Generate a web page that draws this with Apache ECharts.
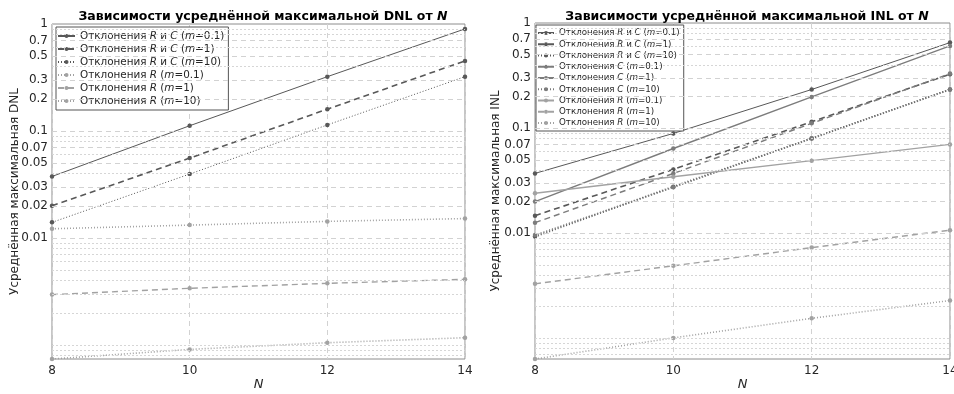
<!DOCTYPE html>
<html><head><meta charset="utf-8">
<script src="https://cdn.jsdelivr.net/npm/echarts@6/dist/echarts.min.js"></script>
<style>html,body{margin:0;padding:0;background:#fff}#c{width:954px;height:394px}</style>
</head><body><div id="c"></div>
<script>
// ---- data ----
const N = [8, 10, 12, 14];
const xTicks = [8, 10, 12, 14];
const yTickLabels = [0.01, 0.02, 0.03, 0.05, 0.07, 0.1, 0.2, 0.3, 0.5, 0.7, 1];

// DNL (left)
const dnl_RC_01 = [0.0376, 0.112, 0.322, 0.90];
const dnl_RC_1  = [0.0200, 0.0558, 0.160, 0.452];
const dnl_RC_10 = [0.0140, 0.0396, 0.114, 0.322];
const dnl_R_01  = [0.0122, 0.0132, 0.0143, 0.0152];
const dnl_R_1   = [0.00296, 0.00339, 0.00377, 0.00411];
const dnl_R_10  = [0.00074, 0.00091, 0.00105, 0.00117];

// INL (right)
const inl_RC_01 = [0.0371, 0.089, 0.233, 0.651];
const inl_RC_1  = [0.0147, 0.0405, 0.115, 0.326];
const inl_RC_10 = [0.0093, 0.0277, 0.0798, 0.233];
const inl_C_01  = [0.0200, 0.064, 0.198, 0.605];
const inl_C_1   = [0.0126, 0.037, 0.111, 0.330];
const inl_C_10  = [0.0096, 0.0274, 0.080, 0.233];
const inl_R_01  = [0.0240, 0.0345, 0.049, 0.070];
const inl_R_1   = [0.0033, 0.0049, 0.0073, 0.0107];
const inl_R_10  = [0.000636, 0.00101, 0.00155, 0.00229];

const namesL = ['Отклонения R и C (m=0.1)', 'Отклонения R и C (m=1)', 'Отклонения R и C (m=10)',
                'Отклонения R (m=0.1)', 'Отклонения R (m=1)', 'Отклонения R (m=10)'];
const namesR = ['Отклонения R и C (m=0.1) ', 'Отклонения R и C (m=1) ', 'Отклонения R и C (m=10) ',
                'Отклонения C (m=0.1)', 'Отклонения C (m=1)', 'Отклонения C (m=10)',
                'Отклонения R (m=0.1) ', 'Отклонения R (m=1) ', 'Отклонения R (m=10) '];

// ---- styles ----
const DARK = '#585858', MID = '#7c7c7c', LIGHT = '#a2a2a2';
const SOLID = 'solid', DASH = [6, 4], DOT = [1, 2];
const FONT = 'DejaVu Sans';

function zip(vals) { return N.map((n, i) => [n, vals[i]]); }
function mk(name, vals, color, type, width, g) {
  return {
    name, type: 'line', xAxisIndex: g, yAxisIndex: g, data: zip(vals), z: 3,
    symbol: 'circle', symbolSize: 4.5, showSymbol: true, animation: false,
    itemStyle: { color: color, borderWidth: 0 },
    lineStyle: { color: color, type: type, width: width }
  };
}

function gridValues(lo) {
  const major = yTickLabels.filter(v => v >= lo && v < 1);
  const minor = [];
  for (let e = -4; e <= 0; e++) {
    for (let k = 1; k <= 9; k++) {
      const v = Number((k * Math.pow(10, e)).toPrecision(3));
      if (v >= lo && v < 1 && yTickLabels.indexOf(v) < 0) minor.push(v);
    }
  }
  return { major, minor };
}

const xMin = xTicks[0], xMax = xTicks[xTicks.length - 1];
function gridSeries(g, lo, which) {
  const gv = gridValues(lo);
  const vals = which === 'major' ? gv.major : gv.minor;
  const ls = which === 'major'
    ? { color: '#d2d2d2', type: [5, 4], width: 1 }
    : { color: '#d6d6d6', type: [2, 2], width: 1 };
  return {
    type: 'line', xAxisIndex: g, yAxisIndex: g, data: [], z: 1, silent: true, animation: false,
    markLine: {
      silent: true, symbol: ['none', 'none'], animation: false, label: { show: false },
      emphasis: { disabled: true }, lineStyle: ls,
      data: vals.map(v => [{ coord: [xMin, v] }, { coord: [xMax, v] }])
    }
  };
}

function richName(name) {
  return name.trim().replace(/(^|[ (])([RCm])(?=[ =)])/g, '$1{i|$2}');
}

function xAxis(g) {
  return {
    type: 'value', gridIndex: g, min: xMin, max: xMax, interval: 2,
    axisLine: { show: false }, axisTick: { show: false },
    axisLabel: { color: '#262626', fontSize: 12, fontFamily: FONT, margin: 6 },
    splitLine: { show: true, lineStyle: { color: '#d2d2d2', type: [5, 4], width: 1 } },
    name: 'N', nameLocation: 'middle', nameGap: 19, nameMoveOverlap: false,
    nameTextStyle: { color: '#262626', fontSize: 13, fontStyle: 'italic', fontFamily: FONT }
  };
}
function yAxis(g, name, gap, lo) {
  return {
    type: 'log', logBase: 10, gridIndex: g,
    min: lo, max: 1,
    axisLine: { show: false }, axisTick: { show: false },
    splitLine: { show: false },
    axisLabel: {
      customValues: yTickLabels, color: '#262626', fontSize: 12, fontFamily: FONT, margin: 4,
      formatter: v => String(+(+v).toPrecision(3))
    },
    name: name, nameLocation: 'middle', nameGap: gap, nameMoveOverlap: false,
    nameTextStyle: { color: '#262626', fontSize: 12, fontFamily: FONT }
  };
}

const seriesL = [
  mk(namesL[0], dnl_RC_01, DARK, SOLID, 1, 0),
  mk(namesL[1], dnl_RC_1, DARK, DASH, 1.6, 0),
  mk(namesL[2], dnl_RC_10, DARK, DOT, 1, 0),
  mk(namesL[3], dnl_R_01, LIGHT, DOT, 1.6, 0),
  mk(namesL[4], dnl_R_1, LIGHT, DASH, 1.4, 0),
  mk(namesL[5], dnl_R_10, LIGHT, DOT, 1.6, 0)
];
const seriesR = [
  mk(namesR[0], inl_RC_01, DARK, SOLID, 1, 1),
  mk(namesR[1], inl_RC_1, DARK, DASH, 1.6, 1),
  mk(namesR[2], inl_RC_10, DARK, DOT, 2, 1),
  mk(namesR[3], inl_C_01, MID, SOLID, 1.4, 1),
  mk(namesR[4], inl_C_1, MID, DASH, 1.4, 1),
  mk(namesR[5], inl_C_10, MID, DOT, 1.6, 1),
  mk(namesR[6], inl_R_01, LIGHT, SOLID, 1.4, 1),
  mk(namesR[7], inl_R_1, LIGHT, DASH, 1.4, 1),
  mk(namesR[8], inl_R_10, LIGHT, DOT, 1.6, 1)
];

const minL = Math.min(...dnl_R_10, ...dnl_R_1);
const minR = Math.min(...inl_R_10, ...inl_R_1);

function legend(names, left, top, fs, lh, gap, w) {
  return {
    data: names, orient: 'vertical', left: left, top: top,
    backgroundColor: '#ffffff', borderColor: '#555', borderWidth: 1, borderRadius: 0,
    padding: [3, 4, 3, 1], itemGap: gap, itemWidth: w, itemHeight: 5,
    selectedMode: false,
    itemStyle: { borderWidth: 0 },
    textStyle: { fontSize: fs, lineHeight: lh, color: '#262626', fontFamily: FONT,
      rich: { i: { fontStyle: 'italic', fontSize: fs, lineHeight: lh, color: '#262626', fontFamily: FONT } } },
    formatter: richName
  };
}

const titleRich = { i: { fontStyle: 'italic', fontWeight: 'bold', fontSize: 12.5, fontFamily: FONT, color: '#000' } };

const option = {
  animation: false,
  backgroundColor: '#fff',
  title: [
    { text: 'Зависимости усреднённой максимальной DNL от {i|N}', left: 258, top: 5, textAlign: 'center',
      textStyle: { fontSize: 12.5, fontWeight: 'bold', fontFamily: FONT, color: '#000', rich: titleRich } },
    { text: 'Зависимости усреднённой максимальной INL от {i|N}', left: 742, top: 5, textAlign: 'center',
      textStyle: { fontSize: 12.5, fontWeight: 'bold', fontFamily: FONT, color: '#000', rich: titleRich } }
  ],
  grid: [
    { left: 52, right: 489, top: 24, bottom: 35, show: true, borderColor: '#8c8c8c', borderWidth: 1,
      backgroundColor: 'transparent', containLabel: false, outerBoundsMode: 'none' },
    { left: 535, right: 4, top: 23, bottom: 35, show: true, borderColor: '#8c8c8c', borderWidth: 1,
      backgroundColor: 'transparent', containLabel: false, outerBoundsMode: 'none' }
  ],
  xAxis: [xAxis(0), xAxis(1)],
  yAxis: [yAxis(0, 'Усреднённая максимальная DNL', 31, minL), yAxis(1, 'Усреднённая максимальная INL', 33, minR)],
  legend: [
    legend(namesL, 56, 27, 10.4, 12, 1, 17),
    legend(namesR, 536, 25, 8.7, 10, 1.25, 16)
  ],
  series: [gridSeries(0, minL, 'minor'), gridSeries(0, minL, 'major'),
           gridSeries(1, minR, 'minor'), gridSeries(1, minR, 'major')].concat(seriesL, seriesR)
};

const chart = echarts.init(document.getElementById('c'), null, { renderer: 'canvas' });
chart.setOption(option);
</script>
</body></html>
